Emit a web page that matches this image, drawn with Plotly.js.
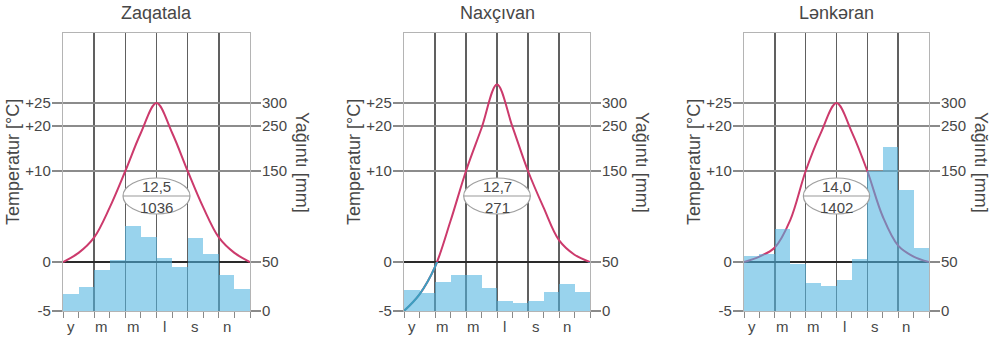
<!DOCTYPE html>
<html>
<head>
<meta charset="utf-8">
<script src="https://cdn.plot.ly/plotly-3.0.1.min.js"></script>
<style>html,body{margin:0;padding:0;background:#fff;}#chart{width:998px;height:340px;}</style>
</head>
<body>
<div id="chart"></div>
<script>
// ---- data ----
const stations = ['Zaqatala', 'Naxçıvan', 'Lənkəran'];
const monthLabels = ['y', 'm', 'm', 'l', 's', 'n'];          // Jan, Mar, May, Jul, Sep, Nov
const tempZaqatala = [0, 1, 2.7, 6, 10, 18.5, 25, 18.5, 10, 6, 2.7, 1, 0];
const tempNaxcivan = [-5, -3.3, -0.5, 4.5, 10, 19.5, 29, 19.8, 10, 6, 2.4, 0.8, 0];
const tempLenkeran = [0, 0.6, 1.6, 4.6, 10, 18.6, 25, 18.6, 10, 5, 1.8, 0.6, 0];
const precipZaqatala = [17, 25, 42, 52, 90, 78, 54, 45, 76, 59, 37, 22];
const precipNaxcivan = [21, 18, 30, 37, 37, 23, 10, 8, 10, 19, 28, 19];
const precipLenkeran = [57, 59, 86, 48, 29, 26, 32, 53, 151, 203, 129, 65];
const annualTemp = ['12,5', '12,7', '14,0'];
const annualPrecip = ['1036', '271', '1402'];
const tempTicks = [-5, 0, 10, 20, 25];
const tempTickText = ['-5', '0', '+10', '+20', '+25'];
const precipTicks = [0, 50, 150, 250, 300];
const precipTickText = ['0', '50', '150', '250', '300'];

const temps = [tempZaqatala, tempNaxcivan, tempLenkeran];
const precs = [precipZaqatala, precipNaxcivan, precipLenkeran];

// ---- diagram scale (piecewise, as printed) ----
const TK = [-5, 0, 10, 20, 25], UK = [-49, 0, 91, 136, 159];
function u(T) {
  if (T <= TK[0]) return UK[0] + (T - TK[0]) * (UK[1] - UK[0]) / (TK[1] - TK[0]);
  for (let i = 0; i < TK.length - 1; i++) {
    if (T <= TK[i + 1]) return UK[i] + (T - TK[i]) * (UK[i + 1] - UK[i]) / (TK[i + 1] - TK[i]);
  }
  const n = TK.length - 1;
  return UK[n] + (T - TK[n]) * (UK[n] - UK[n - 1]) / (TK[n] - TK[n - 1]);
}
const pToT = p => (p - 50) / 10;
const uP = p => u(pToT(p));

// ---- layout geometry (pixels) ----
const W = 998, H = 340;
const panelX = [[63, 250], [404, 590], [744, 929]];
const plotTop = 33, plotBot = 311;
const yDom = [(H - plotBot) / H, (H - plotTop) / H];
const yRange = [u(-5), u(-5) + (plotBot - plotTop)];
const FONT = 'Liberation Sans, Arial, sans-serif';
const TXT = '#474747';

const curveRed = '#cc3a6c';
const barFill = 'rgba(80,180,224,0.58)';

const traces = [];
const layout = {
  width: W, height: H,
  margin: {l: 0, r: 0, t: 0, b: 0},
  paper_bgcolor: '#fff', plot_bgcolor: 'rgba(0,0,0,0)',
  showlegend: false, bargap: 0,
  font: {family: FONT, size: 15, color: TXT},
  annotations: [], shapes: []
};

const monthPos = Array.from({length: 13}, (_, i) => i);
const barPos = Array.from({length: 12}, (_, i) => i + 0.5);

for (let k = 0; k < 3; k++) {
  const xs = k === 0 ? 'x' : 'x' + (k + 1);
  const ys = k === 0 ? 'y' : 'y' + (k + 1);
  const yr = 'y' + (k + 4);
  const xKey = k === 0 ? 'xaxis' : 'xaxis' + (k + 1);
  const yKey = k === 0 ? 'yaxis' : 'yaxis' + (k + 1);
  const yrKey = 'yaxis' + (k + 4);
  const dom = [panelX[k][0] / W, panelX[k][1] / W];

  // temperature curve (left axis)
  traces.push({
    type: 'scatter', mode: 'lines', xaxis: xs, yaxis: ys,
    x: monthPos, y: temps[k].map(u),
    line: {color: curveRed, width: 2, shape: 'spline', smoothing: 1},
    hoverinfo: 'skip'
  });
  // precipitation bars (right axis, drawn over the curve)
  const base = uP(0);
  traces.push({
    type: 'bar', xaxis: xs, yaxis: yr,
    x: barPos, y: precs[k].map(p => uP(p) - base), base: base,
    width: 1, marker: {color: barFill, line: {width: 0}},
    hoverinfo: 'skip'
  });

  layout[xKey] = {
    domain: dom, anchor: ys, range: [0, 12], fixedrange: true,
    tickmode: 'array', tickvals: [2, 4, 6, 8, 10], showticklabels: false,
    ticks: 'outside', ticklen: 6, tickcolor: '#8a8a8a', tickwidth: 1,
    minor: {tickmode: 'array', tickvals: [0, 1, 3, 5, 7, 9, 11, 12], ticks: 'outside', ticklen: 6, tickcolor: '#8a8a8a', showgrid: false},
    showgrid: true, gridcolor: '#606060', gridwidth: 1.4,
    showline: true, mirror: true, linecolor: '#b4b4b4', linewidth: 1.2,
    zeroline: false
  };
  layout[yKey] = {
    domain: yDom, anchor: xs, range: yRange, fixedrange: true,
    tickmode: 'array', tickvals: tempTicks.map(u), ticktext: tempTickText,
    ticks: 'outside', ticklen: 10, tickcolor: '#8a8a8a', tickwidth: 1.2,
    ticklabelstandoff: -2,
    tickfont: {size: 15, color: TXT, family: FONT},
    showgrid: true, gridcolor: '#8c8c8c', gridwidth: 1.1,
    zeroline: true, zerolinecolor: '#2a2a2a', zerolinewidth: 1.6,
    showline: true, mirror: true, linecolor: '#b4b4b4', linewidth: 1.2
  };
  layout[yrKey] = {
    overlaying: ys, side: 'right', anchor: xs, range: yRange, fixedrange: true,
    tickmode: 'array', tickvals: precipTicks.map(uP), ticktext: precipTickText,
    ticks: 'outside', ticklen: 10, tickcolor: '#8a8a8a', tickwidth: 1.2,
    ticklabelstandoff: -2,
    tickfont: {size: 15, color: TXT, family: FONT},
    showgrid: false, zeroline: false, showline: false
  };

  const cx = (panelX[k][0] + panelX[k][1]) / 2 / W;
  layout.annotations.push({
    text: stations[k], xref: 'paper', yref: 'paper', x: cx, y: (H - 13) / H,
    xanchor: 'center', yanchor: 'middle', showarrow: false,
    font: {size: 18, color: TXT, family: FONT}
  });
  layout.annotations.push({
    text: 'Temperatur [°C]', xref: 'paper', yref: 'paper',
    x: (panelX[k][0] - 50) / W, y: (H - 162) / H, textangle: -90,
    xanchor: 'center', yanchor: 'middle', showarrow: false,
    font: {size: 18, color: TXT, family: FONT}
  });
  layout.annotations.push({
    text: 'Yağıntı [mm]', xref: 'paper', yref: 'paper',
    x: (panelX[k][1] + 52) / W, y: (H - 162) / H, textangle: 90,
    xanchor: 'center', yanchor: 'middle', showarrow: false,
    font: {size: 18, color: TXT, family: FONT}
  });
  monthLabels.forEach((m, i) => {
    layout.annotations.push({
      text: m, xref: xs, yref: 'paper', x: 2 * i + 0.5, y: (H - 326) / H,
      xanchor: 'center', yanchor: 'middle', showarrow: false,
      font: {size: 15, color: TXT, family: FONT}
    });
  });
  // annual mean ellipse
  const ecy = (H - 196) / H, eh = 18 / H;
  layout.shapes.push({
    type: 'circle', xref: xs, yref: 'paper', x0: 6 - 2.15, x1: 6 + 2.15,
    y0: ecy - eh, y1: ecy + eh, layer: 'above',
    fillcolor: '#ffffff', line: {color: '#a0a0a0', width: 1.2}
  });
  layout.shapes.push({
    type: 'line', xref: xs, yref: 'paper', x0: 6 - 2.15, x1: 6 + 2.15,
    y0: ecy, y1: ecy, layer: 'above', line: {color: '#9a9a9a', width: 1.2}
  });
  layout.annotations.push({
    text: annualTemp[k], xref: xs, yref: 'paper', x: 6, y: (H - 186) / H,
    xanchor: 'center', yanchor: 'middle', showarrow: false,
    font: {size: 15, color: TXT, family: FONT}
  });
  layout.annotations.push({
    text: annualPrecip[k], xref: xs, yref: 'paper', x: 6, y: (H - 207) / H,
    xanchor: 'center', yanchor: 'middle', showarrow: false,
    font: {size: 15, color: TXT, family: FONT}
  });
}

// sub-zero part of the Naxçıvan curve (same curve, clipped to the band below 0 °C)
layout.xaxis4 = {domain: [panelX[1][0] / W, panelX[1][1] / W], anchor: 'y7', range: [0, 12], visible: false, fixedrange: true};
layout.yaxis7 = {domain: [(H - plotBot) / H, (H - plotBot + (u(0) - u(-5))) / H], anchor: 'x4', range: [u(-5), u(0)], visible: false, fixedrange: true};
traces.push({
  type: 'scatter', mode: 'lines', xaxis: 'x4', yaxis: 'y7',
  x: monthPos, y: tempNaxcivan.map(u),
  line: {color: '#3c9fc0', width: 2, shape: 'spline', smoothing: 1},
  hoverinfo: 'skip'
});

Plotly.newPlot('chart', traces, layout, {staticPlot: true, displayModeBar: false});
</script>
</body>
</html>
